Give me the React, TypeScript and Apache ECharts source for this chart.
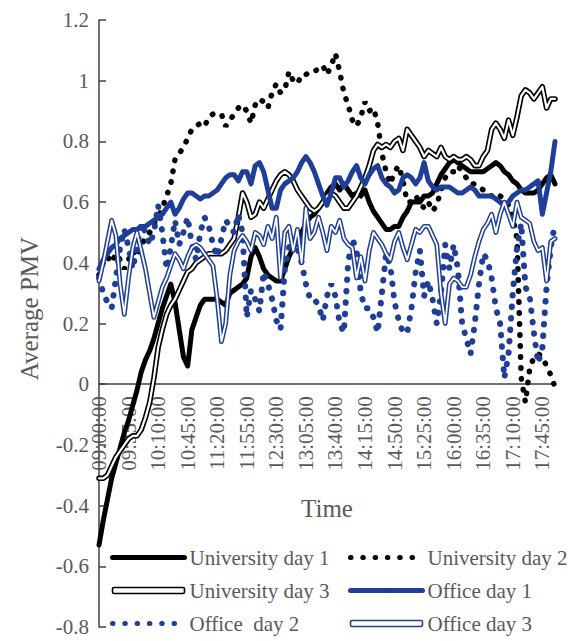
import React, { useEffect, useRef } from 'react';
import * as echarts from 'echarts';

const START_MIN = 9 * 60;
const STEP_MIN = 5;
const POINTS = 109;
const timeLabels: string[] = Array.from({ length: POINTS }, (_, i) => {
  const m = START_MIN + i * STEP_MIN;
  const h = Math.floor(m / 60);
  const mm = m % 60;
  return `${String(h).padStart(2, '0')}:${String(mm).padStart(2, '0')}:00`;
});

const yMin = -0.8;
const yMax = 1.2;
const yStep = 0.2;

const universityDay1 = [
  -0.53, -0.45, -0.38, -0.31, -0.26, -0.21, -0.16, -0.12, -0.07, -0.02,
  0.04, 0.08, 0.11, 0.15, 0.2, 0.25, 0.29, 0.33, 0.27, 0.18,
  0.09, 0.06, 0.18, 0.22, 0.26, 0.28, 0.28, 0.28, 0.28, 0.27,
  0.26, 0.3, 0.31, 0.32, 0.33, 0.35, 0.42, 0.45, 0.42, 0.38,
  0.36, 0.35, 0.34, 0.34, 0.38, 0.42, 0.45, 0.47, 0.5, 0.53,
  0.55, 0.56, 0.58, 0.6, 0.63, 0.65, 0.66, 0.64, 0.66, 0.64,
  0.62, 0.63, 0.62, 0.64, 0.6, 0.57, 0.55, 0.53, 0.51, 0.51,
  0.52, 0.52, 0.55, 0.57, 0.6, 0.6, 0.6, 0.62, 0.62, 0.63,
  0.66, 0.69, 0.71, 0.73, 0.74, 0.73, 0.72, 0.71, 0.7, 0.7,
  0.7, 0.7, 0.71, 0.72, 0.73, 0.72, 0.7, 0.69, 0.67, 0.66,
  0.64, 0.63, 0.63, 0.63, 0.64, 0.66, 0.68, 0.69, 0.66,
];

const universityDay2 = [
  0.36, 0.4, 0.42, 0.4, 0.43, 0.41, 0.38, 0.41, 0.44, 0.42,
  0.46, 0.48, 0.5, 0.53, 0.55, 0.58, 0.62, 0.66, 0.74, 0.76,
  0.78, 0.81, 0.84, 0.85, 0.86, 0.85, 0.88, 0.89, 0.89, 0.89,
  0.85, 0.87, 0.89, 0.91, 0.92, 0.9, 0.86, 0.92, 0.94, 0.93,
  0.91, 0.96, 0.99, 0.96, 0.97, 1.03, 1.0, 0.99, 1.02, 1.02,
  1.03, 1.03, 1.04, 1.05, 1.02, 1.05, 1.09, 1.03, 0.96, 0.92,
  0.87, 0.85, 0.88, 0.93, 0.9, 0.91, 0.86, 0.76, 0.7, 0.66,
  0.7, 0.72, 0.67, 0.6, 0.6, 0.62, 0.6, 0.58, 0.6, 0.57,
  0.59, 0.64, 0.68, 0.7, 0.7, 0.72, 0.7, 0.68, 0.66, 0.66,
  0.65, 0.64, 0.63, 0.62, 0.61, 0.62, 0.61, 0.59, 0.55, 0.48,
  0.02, -0.06, 0.05, 0.09, 0.1, 0.09, 0.06, 0.03, -0.01,
];

const universityDay3 = [
  -0.31, -0.31, -0.3, -0.27, -0.24, -0.22, -0.2, -0.18, -0.17, -0.17,
  -0.15, -0.11, -0.06, 0.02, 0.12, 0.18, 0.23, 0.26, 0.28, 0.31,
  0.34, 0.37, 0.38, 0.4, 0.41, 0.42, 0.43, 0.43, 0.43, 0.43,
  0.44, 0.46, 0.48, 0.55, 0.63, 0.6, 0.55, 0.56, 0.6, 0.58,
  0.61, 0.64, 0.67, 0.69, 0.7, 0.69, 0.67, 0.64, 0.62, 0.6,
  0.58, 0.57, 0.58, 0.6, 0.62, 0.63, 0.62, 0.6, 0.58, 0.58,
  0.6, 0.62, 0.65, 0.68, 0.72, 0.77, 0.79, 0.78, 0.79, 0.78,
  0.8, 0.81, 0.77, 0.84, 0.82, 0.8, 0.78, 0.75, 0.77, 0.76,
  0.75, 0.78, 0.75, 0.74, 0.75, 0.74, 0.74, 0.75, 0.74, 0.72,
  0.72, 0.75, 0.77, 0.84, 0.86, 0.84, 0.81, 0.87, 0.82, 0.88,
  0.95, 0.97, 0.96, 0.94, 0.96, 0.98, 0.91, 0.94, 0.94,
];

const officeDay1 = [
  0.38, 0.41, 0.43, 0.45, 0.46, 0.48, 0.49, 0.5, 0.51, 0.51,
  0.52, 0.52, 0.53, 0.54, 0.55, 0.56, 0.58, 0.6, 0.56, 0.58,
  0.61, 0.63, 0.63, 0.62, 0.61, 0.62, 0.62, 0.63, 0.64, 0.66,
  0.68, 0.69, 0.69, 0.67, 0.7, 0.7, 0.66, 0.72, 0.73, 0.7,
  0.64, 0.58, 0.58, 0.64, 0.66, 0.67, 0.68, 0.7, 0.73, 0.75,
  0.73, 0.7, 0.66, 0.62, 0.59, 0.63, 0.68, 0.68, 0.65, 0.67,
  0.7, 0.72, 0.68, 0.66, 0.69, 0.71, 0.72, 0.68, 0.66, 0.65,
  0.63, 0.64, 0.68, 0.69, 0.68, 0.66, 0.68, 0.73, 0.67, 0.65,
  0.64, 0.65, 0.65, 0.65, 0.64, 0.63, 0.63, 0.64, 0.65, 0.64,
  0.62, 0.62, 0.62, 0.62, 0.61, 0.6, 0.59, 0.6, 0.62, 0.63,
  0.64, 0.64, 0.65, 0.66, 0.67, 0.56, 0.63, 0.7, 0.8,
];

const officeDay2 = [
  0.35, 0.3, 0.27, 0.25, 0.35, 0.45, 0.51, 0.45, 0.38, 0.45,
  0.53, 0.5, 0.46, 0.5, 0.59, 0.5, 0.38, 0.45, 0.54, 0.46,
  0.5, 0.55, 0.46, 0.41, 0.5, 0.55, 0.52, 0.46, 0.42, 0.48,
  0.54, 0.52, 0.5, 0.56, 0.5, 0.22, 0.31, 0.28, 0.24, 0.37,
  0.33, 0.28, 0.21, 0.18, 0.38, 0.45, 0.48, 0.45, 0.4, 0.33,
  0.28, 0.28, 0.26, 0.21, 0.29, 0.33, 0.29, 0.2, 0.17, 0.4,
  0.48, 0.44, 0.3, 0.25, 0.25, 0.22, 0.17, 0.3, 0.43, 0.39,
  0.27, 0.21, 0.17, 0.17, 0.25, 0.37, 0.44, 0.29, 0.34, 0.28,
  0.2, 0.3, 0.46, 0.38, 0.46, 0.38, 0.2, 0.15, 0.1, 0.2,
  0.33, 0.43, 0.41, 0.35, 0.25, 0.2, 0.02, 0.1, 0.3, 0.45,
  0.53, 0.32, 0.29, 0.17, 0.07, 0.12, 0.32, 0.45, 0.53,
];

const officeDay3 = [
  0.34, 0.4, 0.47, 0.54, 0.49, 0.33, 0.23, 0.35, 0.45, 0.5,
  0.44, 0.38, 0.3, 0.22, 0.27, 0.32, 0.35, 0.39, 0.43, 0.41,
  0.38, 0.42, 0.45, 0.46, 0.45, 0.43, 0.41, 0.39, 0.28, 0.14,
  0.2, 0.36, 0.44, 0.47, 0.49, 0.47, 0.44, 0.5, 0.49, 0.46,
  0.52, 0.48, 0.55, 0.35, 0.5, 0.52, 0.44, 0.51, 0.4, 0.58,
  0.48, 0.5, 0.55, 0.5, 0.44, 0.52, 0.5, 0.54, 0.48, 0.46,
  0.45, 0.35, 0.42, 0.34, 0.44, 0.5, 0.48, 0.46, 0.43, 0.41,
  0.47, 0.5, 0.45, 0.41, 0.46, 0.51, 0.5, 0.52, 0.52, 0.49,
  0.46, 0.3, 0.2, 0.33, 0.35, 0.34, 0.32, 0.32, 0.36, 0.42,
  0.47, 0.51, 0.53, 0.56, 0.5, 0.56, 0.6, 0.56, 0.52, 0.6,
  0.55, 0.54, 0.53, 0.47, 0.44, 0.45, 0.34, 0.47, 0.48,
];

const BLUE = '#1F3E97';
const GRAY_TEXT = '#595959';
const AXIS = '#404040';
const FONT = '"Liberation Serif", "Times New Roman", serif';

const GRID_TOP = 20;
const GRID_BOTTOM = 14;
const CHART_H = 641;

export default function App() {
  const ref = useRef<HTMLDivElement>(null);
  useEffect(() => {
    if (!ref.current) return;
    const chart = echarts.init(ref.current, undefined, { renderer: 'svg' });
    const plotH = CHART_H - GRID_TOP - GRID_BOTTOM;
    const zeroFromBottom = plotH * (0 - yMin) / (yMax - yMin);
    const solid = (color: string, width: number) => ({ color, width, join: 'round' as const, cap: 'round' as const });
    const dotted = (color: string, width: number, gap: number) => ({ color, width, type: [0.5, gap], cap: 'round' as const });
    const base = { type: 'line' as const, symbol: 'none', smooth: false, silent: true };
    const legendDots = { cap: 'round', type: [0.5, 11.8], width: 5 };
    const legendCommon = {
      orient: 'vertical' as const,
      top: 547,
      padding: 0,
      itemGap: 12,
      itemWidth: 72,
      itemHeight: 6,
      textStyle: { color: GRAY_TEXT, fontSize: 21, fontFamily: FONT },
      lineStyle: { width: 'inherit' as any },
      selectedMode: false,
    };
    chart.setOption({
      animation: false,
      grid: { left: 99, right: 13, top: GRID_TOP, bottom: GRID_BOTTOM, containLabel: false, outerBoundsMode: 'none' },
      legend: [
        {
          ...legendCommon,
          left: 110,
          data: [
            { name: 'University day 1' },
            { name: 'University day 3', icon: 'roundRect', itemStyle: { color: '#fff', borderColor: '#000', borderWidth: 1.6 } },
            { name: 'Office  day 2', itemStyle: { opacity: 0 }, lineStyle: legendDots },
          ],
        },
        {
          ...legendCommon,
          left: 348,
          data: [
            { name: 'University day 2', itemStyle: { opacity: 0 }, lineStyle: legendDots },
            { name: 'Office day 1' },
            { name: 'Office day 3', icon: 'roundRect', itemStyle: { color: '#fff', borderColor: BLUE, borderWidth: 1.6 } },
          ],
        },
      ],
      xAxis: {
        type: 'category',
        data: timeLabels,
        boundaryGap: false,
        position: 'bottom',
        offset: -zeroFromBottom,
        axisLine: { onZero: false, lineStyle: { color: AXIS, width: 1.5 } },
        axisTick: { show: false },
        axisLabel: { interval: 6, rotate: 90, color: GRAY_TEXT, fontSize: 21, fontFamily: FONT, margin: 12 },
        splitLine: { show: false },
        name: 'Time',
        nameLocation: 'middle',
        nameGap: 112,
        nameTextStyle: { color: GRAY_TEXT, fontSize: 25, fontFamily: FONT },
      },
      yAxis: {
        type: 'value',
        min: yMin,
        max: yMax,
        interval: yStep,
        axisLine: { show: true, lineStyle: { color: AXIS, width: 1.5 } },
        axisTick: { show: true, inside: true, length: 7, lineStyle: { color: AXIS, width: 1.5 } },
        splitLine: { show: false },
        axisLabel: {
          color: GRAY_TEXT,
          fontSize: 21,
          fontFamily: FONT,
          margin: 10,
          formatter: (v: number) => String(parseFloat(v.toFixed(1))),
        },
        name: 'Average PMV',
        nameLocation: 'middle',
        nameGap: 57,
        nameTextStyle: { color: GRAY_TEXT, fontSize: 25, fontFamily: FONT, padding: [0, 0, 0, 30] },
      },
      series: [
        { ...base, name: 'University day 1', data: universityDay1, itemStyle: { color: '#000' }, lineStyle: solid('#000', 5) },
        { ...base, name: 'University day 2', data: universityDay2, itemStyle: { color: '#000' }, lineStyle: dotted('#000', 5.5, 10.5) },
        { ...base, name: 'University day 3', data: universityDay3, itemStyle: { color: '#000' }, lineStyle: solid('#000', 5.5) },
        { ...base, name: 'University day 3 inner', data: universityDay3, itemStyle: { color: '#fff' }, lineStyle: solid('#fff', 2.2) },
        { ...base, name: 'Office day 1', data: officeDay1, itemStyle: { color: BLUE }, lineStyle: solid(BLUE, 5) },
        { ...base, name: 'Office  day 2', data: officeDay2, itemStyle: { color: BLUE }, lineStyle: dotted(BLUE, 6, 11) },
        { ...base, name: 'Office day 3', data: officeDay3, itemStyle: { color: BLUE }, lineStyle: solid(BLUE, 4.8) },
        { ...base, name: 'Office day 3 inner', data: officeDay3, itemStyle: { color: '#fff' }, lineStyle: solid('#fff', 1.8) },
      ],
    });
    return () => chart.dispose();
  }, []);
  return <div ref={ref} style={{ position: 'absolute', left: 0, top: 0, width: 568, height: 641 }} />;
}
